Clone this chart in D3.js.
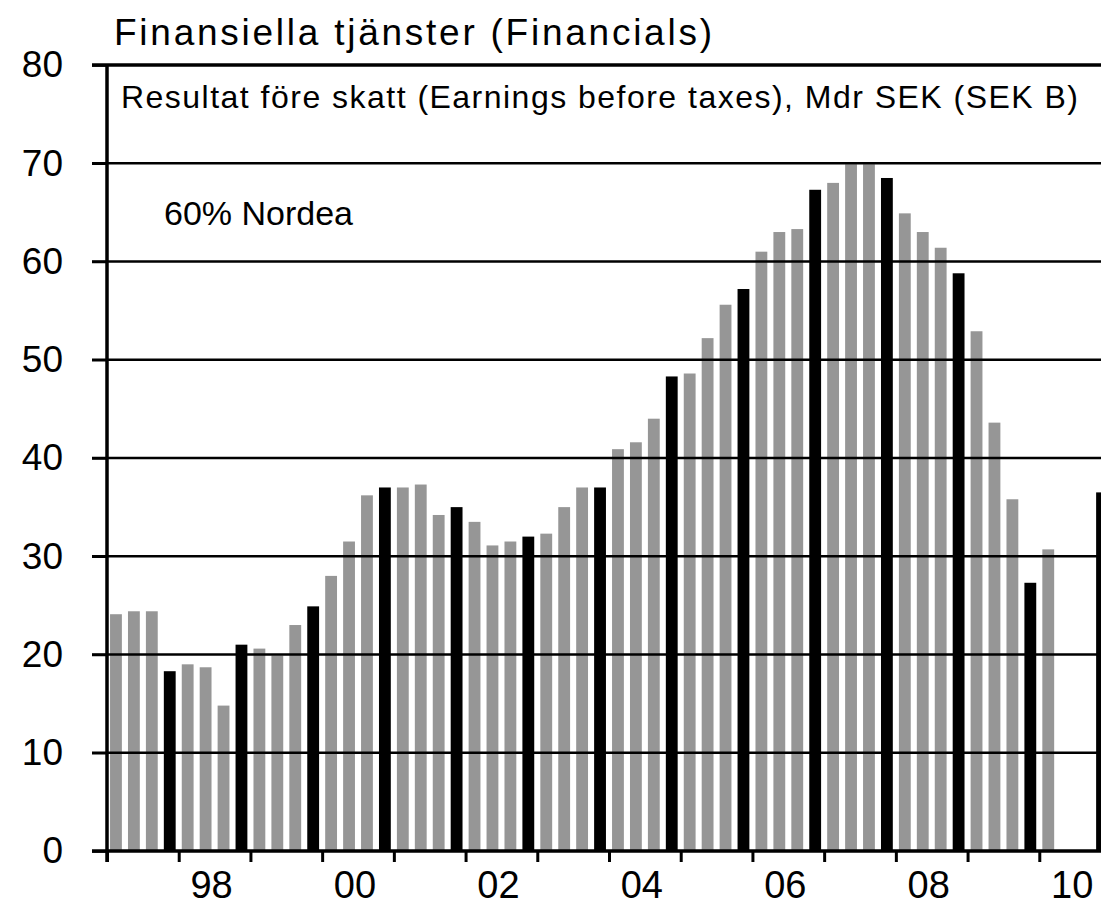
<!DOCTYPE html>
<html>
<head>
<meta charset="utf-8">
<script src="https://cdn.jsdelivr.net/npm/d3@7"></script>
<style>
  body { margin: 0; background: #fff; }
  svg { display: block; font-family: "Liberation Sans", Arial, sans-serif; }
</style>
</head>
<body>
<div id="chart"></div>
<script>
// quarterly earnings before taxes, SEK B, 1997Q1 .. 2010Q4 (Q4 drawn black)
const years = d3.range(1997, 2011);
const quarters = ["Q1", "Q2", "Q3", "Q4"];
const earnings = [
  24.1, 24.4, 24.4, 18.3,
  19.0, 18.7, 14.8, 21.0,
  20.6, 19.9, 23.0, 24.9,
  28.0, 31.5, 36.2, 37.0,
  37.0, 37.3, 34.2, 35.0,
  33.5, 31.1, 31.5, 32.0,
  32.3, 35.0, 37.0, 37.0,
  40.9, 41.6, 44.0, 48.3,
  48.6, 52.2, 55.6, 57.2,
  61.0, 63.0, 63.3, 67.3,
  68.0, 69.9, 69.9, 68.5,
  64.9, 63.0, 61.4, 58.8,
  52.9, 43.6, 35.8, 27.3,
  30.7, null, null, 36.5
];
const yearLabels = [[1998, "98"], [2000, "00"], [2002, "02"], [2004, "04"], [2006, "06"], [2008, "08"], [2010, "10"]];
const yTicks = [0, 10, 20, 30, 40, 50, 60, 70, 80];

const W = 1101, H = 912;
const margin = { left: 107, top: 65, bottom: 851, right: 1111 };

const svg = d3.select("#chart")
  .append("svg")
  .attr("width", W)
  .attr("height", H);

const data = years.flatMap((yr, i) =>
  quarters.map((q, j) => ({ key: yr + q, q: q, v: earnings[i * 4 + j] })))
  .filter(d => d.v != null);

let x = d3.scaleBand()
  .domain(years.flatMap(yr => quarters.map(q => yr + q)))
  .range([margin.left, margin.right])
  .paddingInner(0.34)
  .paddingOuter(0.17);

let xYear = d3.scaleLinear().domain([1997, 2011]).range([margin.left, margin.right]);

let y = d3.scaleLinear().domain([0, 80]).range([margin.bottom, margin.top]);

// bars
svg.append("g")
  .selectAll("rect")
  .data(data)
  .join("rect")
  .attr("x", d => x(d.key))
  .attr("width", x.bandwidth())
  .attr("y", d => y(d.v))
  .attr("height", d => y(0) - y(d.v))
  .attr("fill", d => d.q === "Q4" ? "#000" : "#969696");

// gridlines on top of bars
svg.append("g")
  .selectAll("line")
  .data(yTicks.filter(t => t > 0))
  .join("line")
  .attr("x1", margin.left - 15)
  .attr("x2", W)
  .attr("y1", d => y(d))
  .attr("y2", d => y(d))
  .attr("stroke", "#000")
  .attr("stroke-width", d => d === 80 ? 3.5 : 2.5);

// y axis
svg.append("g")
  .attr("transform", "translate(" + margin.left + ",0)")
  .call(d3.axisLeft(y).tickValues(yTicks).tickSize(15).tickPadding(29))
  .call(g => g.select(".domain").attr("stroke-width", 3.5).attr("d", "M0," + margin.top + "V" + (margin.bottom + 11)))
  .call(g => g.selectAll(".tick line").attr("stroke-width", 2.5))
  .call(g => g.selectAll(".tick text")
    .attr("font-size", 37)
    .attr("font-family", "Liberation Sans, Arial, sans-serif")
    .attr("fill", "#000"));

// x axis: year boundary ticks
svg.append("g")
  .attr("transform", "translate(0," + margin.bottom + ")")
  .call(d3.axisBottom(xYear).tickValues(d3.range(1997, 2012)).tickSize(11).tickFormat(""))
  .call(g => g.select(".domain").attr("stroke-width", 3.5).attr("d", "M" + (margin.left - 15) + ",0H" + W))
  .call(g => g.selectAll(".tick line").attr("stroke-width", 3));

svg.append("g")
  .selectAll("text")
  .data(yearLabels)
  .join("text")
  .attr("x", d => xYear(d[0] + 0.5) - 3)
  .attr("y", 898)
  .attr("text-anchor", "middle")
  .attr("font-size", 38)
  .text(d => d[1]);

// titles
svg.append("text")
  .attr("x", 114)
  .attr("y", 45)
  .attr("font-size", 37)
  .attr("textLength", 598)
  .attr("lengthAdjust", "spacing")
  .text("Finansiella tjänster (Financials)");

svg.append("text")
  .attr("x", 121)
  .attr("y", 108)
  .attr("font-size", 32)
  .attr("textLength", 957)
  .attr("lengthAdjust", "spacing")
  .text("Resultat före skatt (Earnings before taxes), Mdr SEK (SEK B)");

svg.append("text")
  .attr("x", 164)
  .attr("y", 225)
  .attr("font-size", 34)
  .text("60% Nordea");
</script>
</body>
</html>
